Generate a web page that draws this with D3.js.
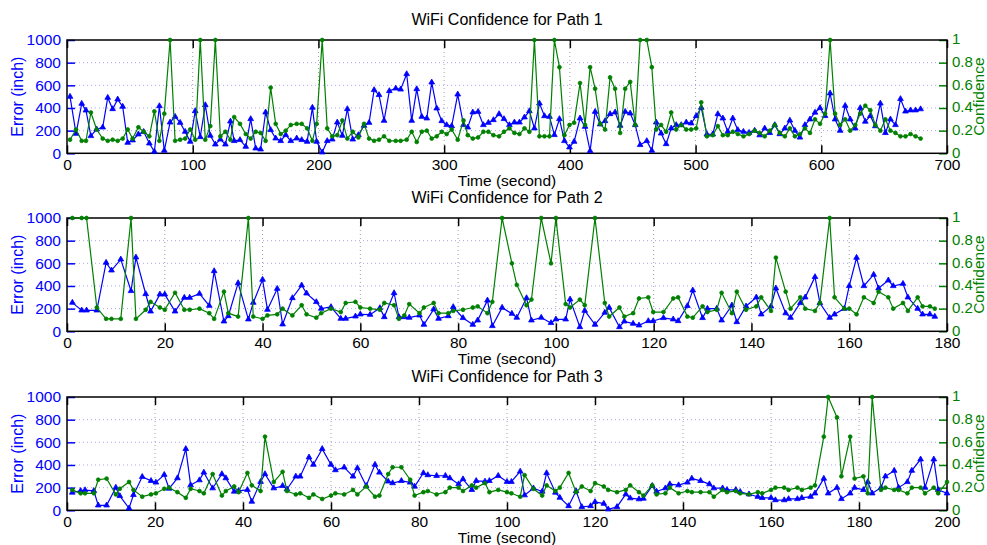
<!DOCTYPE html>
<html>
<head>
<meta charset="utf-8">
<script src="https://cdn.jsdelivr.net/npm/d3@7"></script>
<style>
body{margin:0;background:#fff;}
text{font-family:"Liberation Sans",Arial,Helvetica,sans-serif;}
</style>
</head>
<body>
<svg id="chart" width="987" height="545"></svg>
<script>
// ---------- DATA ----------
const titles = ["WiFi Confidence for Path 1","WiFi Confidence for Path 2","WiFi Confidence for Path 3"];
const xMax = [700, 180, 200];
const xTicks1 = [0,100,200,300,400,500,600,700];
const xTicks2 = [0,20,40,60,80,100,120,140,160,180];
const xTicks3 = [0,20,40,60,80,100,120,140,160,180,200];
const errTicks = [0,200,400,600,800,1000];
const confTicks = [0,0.2,0.4,0.6,0.8,1];
const confTickLabels = ["0","0.2","0.4","0.6","0.8","1"];

const time1 = [2.4,7.2,11.7,15.1,19,23.6,28.4,32.4,36.3,40.3,44.3,48.3,52.2,56.8,61,65.5,69.5,73.5,77.4,82,86,90,94,98,102,106,110,114,118,122,126,130,
133,137.6,142.2,146.1,150.1,154,158,162,166,170,174,178,182.7,186.7,191,195.2,198.6,203,207,211,215,219,223,227.3,231.8,236.3,240.3,244.3,248.2,252.2,256.4,261.5,265.4,
270.2,274.2,278.2,282.2,286.2,290.1,294.1,298.1,302,306,310.8,315.4,318.8,322.8,327,331.2,335.2,339.2,343.7,347.6,351.9,355.9,359.9,363.9,367.8,371.8,375.8,379.8,383.8,387.7,391.7,395.7,399.7,
403.4,408.1,412.1,416.1,420.1,424.1,428,432,436,440,444,448,452,455.9,461.2,465.2,468.7,472.6,476.6,480.6,484.6,488.6,492.6,496.5,500.5,504.5,509,513.7,517.7,521.7,525.6,529.6,533.6,538.1,542.6,
547,551,555,559,563,567,571,575,579,583,587,591,595,599,603,607,611,615,619,623,627,631,635,639,643,647,651,655,659,663,667,671,675,679];
const error1 = [500,173,438,379,153,212,229,491,391,476,412,94,115,168,190,88,15,417,24,273,323,270,191,103,373,144,426,156,79,123,79,282,
109,118,59,303,44,35,362,206,132,109,162,109,132,118,103,403,103,9,109,123,273,156,391,123,162,244,270,559,515,288,550,573,564,
700,288,567,323,309,626,397,285,250,241,520,250,229,362,367,250,270,294,347,303,250,273,273,318,373,221,441,329,323,162,303,109,53,
103,309,235,21,367,256,285,347,362,244,367,353,250,74,109,24,273,176,82,221,250,250,273,265,329,403,168,168,347,309,191,309,206,191,182,
200,160,220,180,250,170,220,290,200,140,250,300,360,400,330,530,300,200,420,300,220,400,280,330,240,440,180,300,250,480,370,380,380,390];
const conf1 = [0.12,0.21,0.11,0.11,0.36,0.21,0.13,0.11,0.12,0.11,0.13,0.21,0.13,0.23,0.19,0.15,0.37,0.11,0.35,1.0,0.11,0.12,0.13,0.21,0.12,1.0,0.12,0.24,1.0,0.15,0.19,0.12,
0.32,0.26,0.17,0.13,0.19,0.18,0.11,0.58,0.26,0.17,0.20,0.25,0.26,0.26,0.22,0.11,0.26,1.0,0.22,0.15,0.16,0.29,0.13,0.19,0.14,0.26,0.13,0.11,0.12,0.15,0.11,0.11,0.11,
0.12,0.19,0.10,0.19,0.20,0.13,0.15,0.19,0.17,0.21,0.12,0.29,0.16,0.13,0.14,0.19,0.19,0.16,0.15,0.19,0.22,0.18,0.17,0.22,0.19,1.0,0.15,0.15,0.15,1.0,0.76,0.16,0.25,
0.27,0.62,0.25,0.76,0.57,0.26,0.21,0.67,0.57,0.18,0.57,0.63,0.25,1.0,1.0,0.76,0.21,0.25,0.19,0.36,0.21,0.25,0.21,0.21,0.22,0.45,0.15,0.16,0.24,0.16,0.16,0.19,0.17,0.15,0.17,
0.20,0.18,0.15,0.20,0.25,0.18,0.15,0.22,0.15,0.17,0.22,0.18,0.30,0.26,0.35,1.0,0.35,0.25,0.30,0.20,0.25,0.35,0.42,0.38,0.25,0.20,0.30,0.20,0.18,0.15,0.15,0.17,0.15,0.13];

const time2 = [1.1,3,4,6.1,8,9.1,11,13.1,14.1,16.1,17.1,19,20,22.1,24,25.1,27.1,29.1,30.1,32.1,33,35,37.1,38.1,40,41,43,44.1,46.1,48,49,51,52,54,56,57,59,60,62,64,64.9,66.9,67.9,69,
70,72.1,73,75,76,78,79,81,83,84,86,87,89,91,92,94,95,97,99,100,102,102.9,104.9,105.9,108,110,110.9,113,114,115.8,117,118.9,119.9,122,124,125,126.9,128,130,131,132.9,133.9,136,137,138.9,
141,142,144,145,147,148,150,151,153,154,156,157,159,160,161.5,163,165,166,168,169,171,172,174,175,176.5,177.5];
const error2 = [253,185,185,185,606,538,635,356,653,329,176,326,326,176,297,297,332,226,532,88,135,426,106,253,456,191,376,62,294,406,335,259,200,215,112,112,132,150,147,206,126,338,126,126,
121,141,59,194,112,135,215,118,59,97,273,47,209,156,121,294,97,121,74,106,106,282,38,182,59,165,209,38,88,68,53,91,91,118,106,91,224,362,118,200,200,97,229,82,221,
300,150,220,380,160,120,250,300,480,250,120,150,200,400,650,400,500,380,450,400,420,300,200,150,150,130];
const conf2 = [1,1,1,0.21,0.11,0.11,0.11,1,0.11,0.19,0.26,0.21,0.19,0.34,0.19,0.19,0.20,0.16,0.11,0.35,0.16,0.13,1,0.13,0.11,0.14,0.15,0.20,0.14,0.23,0.15,0.12,0.16,0.20,0.17,0.25,0.26,0.21,0.20,0.19,0.25,0.23,0.11,0.14,
0.24,0.16,0.21,0.25,0.16,0.16,0.18,0.19,0.21,0.22,0.16,0.26,1,0.60,0.41,0.23,0.28,1,0.60,1,0.24,0.21,0.28,0.23,1,0.25,0.13,0.21,0.13,0.16,0.29,0.30,0.17,0.17,0.29,0.30,0.13,0.12,0.22,0.17,0.19,0.34,0.16,0.35,0.19,
0.22,0.30,0.18,0.65,0.35,0.20,0.30,0.20,0.18,0.25,1,0.30,0.20,0.20,0.15,0.30,0.25,0.35,0.30,0.20,0.25,0.18,0.30,0.22,0.22,0.20];

const time3 = [1.2,3.1,4.1,6.1,7.1,9,11.1,12,14.1,15.1,17.1,19.1,20.2,22.1,23.2,25.1,27,28.1,30.1,31.1,33.1,35.2,36.1,38,39,41,42,44,45,47,49,50,52,53,55,56,58,60,61,63,65,66,68,70,71,73,74,76,
78,79,81,82,84,86,87,89,90,92,93,95,96,98,100,101,103,104,106,108,109,111,112,114,115.7,117,119,120,122,123,125,127,128,130,131,133,134,136,137,139,141,142,144,146,147,149,150,152,153,155,
157,158,160,161,163,164,166,167,169,170,172,173,175,176,178,179,181,182,183,185,186,188,189,191,192,194,195,197,198,200];
const error3 = [157,172,178,172,44,44,201,127,18,136,296,260,246,314,192,284,542,222,266,334,195,320,284,166,172,181,77,252,320,195,216,186,299,299,468,403,542,403,355,379,299,373,216,403,334,255,240,260,
246,210,329,311,305,305,284,231,275,181,260,255,260,305,252,252,343,133,195,166,329,157,112,38,170,30,38,74,59,9,30,142,107,98,104,216,166,195,231,222,246,281,260,231,195,195,181,181,163,142,
120,110,110,90,90,100,100,110,120,150,280,150,200,100,150,200,180,250,150,200,300,350,200,250,350,450,200,450,180,150];
const conf3 = [0.18,0.15,0.15,0.15,0.27,0.28,0.14,0.19,0.25,0.18,0.12,0.14,0.15,0.19,0.20,0.16,0.11,0.19,0.17,0.15,0.32,0.13,0.17,0.21,0.16,0.33,0.22,0.17,0.65,0.25,0.34,0.17,0.14,0.15,0.11,0.14,0.10,0.13,0.15,0.14,0.18,0.14,0.21,0.12,0.13,0.32,0.38,0.38,
0.27,0.13,0.16,0.17,0.14,0.16,0.20,0.20,0.17,0.22,0.20,0.24,0.16,0.18,0.16,0.15,0.12,0.31,0.19,0.13,0.22,0.17,0.20,0.33,0.16,0.21,0.17,0.24,0.21,0.18,0.16,0.18,0.22,0.16,0.13,0.22,0.14,0.15,0.20,0.15,0.17,0.16,0.16,0.16,0.12,0.18,0.16,0.17,0.15,0.14,
0.16,0.15,0.18,0.20,0.20,0.18,0.20,0.18,0.20,0.22,0.65,1,0.82,0.30,0.65,0.28,0.30,0.15,1,0.18,0.20,0.18,0.18,0.15,0.20,0.20,0.15,0.20,0.15,0.25];

// ---------- DRAW ----------
const panels = [
  {time: time1, err: error1, conf: conf1, xTicks: xTicks1},
  {time: time2, err: error2, conf: conf2, xTicks: xTicks2},
  {time: time3, err: error3, conf: conf3, xTicks: xTicks3}
];
const L = 67, R = 947, H = 113.3;
const tops = [40, 218, 397];
const BLUE = "#0000ff", GREEN = "#008000";
const svg = d3.select("#chart");

panels.forEach((p, i) => {
  const top = tops[i], bottom = top + H;
  const x = d3.scaleLinear().domain([0, xMax[i]]).range([L, R]);
  const yE = d3.scaleLinear().domain([0, 1000]).range([bottom, top]);
  const yC = d3.scaleLinear().domain([0, 1]).range([bottom, top]);
  const g = svg.append("g");

  // grid
  g.append("g").selectAll("line").data(errTicks.slice(1, -1)).join("line")
    .attr("x1", L).attr("x2", R).attr("y1", d => yE(d)).attr("y2", d => yE(d))
    .attr("stroke", "#a8a8f0").attr("stroke-width", 1).attr("stroke-dasharray", "1,3");
  g.append("g").selectAll("line").data(p.xTicks.slice(1, -1)).join("line")
    .attr("x1", d => x(d)).attr("x2", d => x(d)).attr("y1", top).attr("y2", bottom)
    .attr("stroke", "#a0a0a0").attr("stroke-width", 1).attr("stroke-dasharray", "1,3");

  // x axis (bottom, inner ticks)
  const xa = g.append("g").attr("transform", `translate(0,${bottom})`)
    .call(d3.axisBottom(x).tickValues(p.xTicks).tickSize(-8).tickPadding(6).tickFormat(d3.format("d")));
  xa.select(".domain").remove();
  xa.selectAll(".tick line").attr("stroke", "#000").attr("stroke-width", 1.5);
  xa.selectAll("text").attr("font-size", 15.5).attr("fill", "#000");
  const xt = g.append("g").attr("transform", `translate(0,${top})`)
    .call(d3.axisTop(x).tickValues(p.xTicks).tickSize(-8).tickFormat(""));
  xt.select(".domain").remove();
  xt.selectAll(".tick line").attr("stroke", "#000").attr("stroke-width", 1.5);

  // left axis
  const ya = g.append("g").attr("transform", `translate(${L},0)`)
    .call(d3.axisLeft(yE).tickValues(errTicks).tickSize(-8).tickPadding(6).tickFormat(d3.format("d")));
  ya.select(".domain").remove();
  ya.selectAll(".tick line").attr("stroke", BLUE).attr("stroke-width", 1.5);
  ya.selectAll("text").attr("font-size", 15.5).attr("fill", BLUE);

  // right axis
  const yb = g.append("g").attr("transform", `translate(${R},0)`)
    .call(d3.axisRight(yC).tickValues(confTicks).tickSize(-8).tickPadding(5).tickFormat((d, k) => confTickLabels[k]));
  yb.select(".domain").remove();
  yb.selectAll(".tick line").attr("stroke", GREEN).attr("stroke-width", 1.5);
  yb.selectAll("text").attr("font-size", 15).attr("fill", GREEN).attr("dy", "0.25em");

  // box
  g.append("rect").attr("x", L).attr("y", top).attr("width", R - L).attr("height", H)
    .attr("fill", "none").attr("stroke", "#000").attr("stroke-width", 1.5);

  // series
  const idx = d3.range(p.time.length);
  const lineE = d3.line().x(k => x(p.time[k])).y(k => yE(p.err[k]));
  const lineC = d3.line().x(k => x(p.time[k])).y(k => yC(p.conf[k]));
  g.append("path").attr("d", lineE(idx)).attr("fill", "none").attr("stroke", BLUE).attr("stroke-width", 1.2);
  g.append("g").selectAll("path").data(idx).join("path")
    .attr("d", d3.symbol(d3.symbolTriangle, 14)())
    .attr("transform", k => `translate(${x(p.time[k])},${yE(p.err[k])})`)
    .attr("fill", BLUE).attr("stroke", BLUE).attr("stroke-width", 0.8);
  g.append("path").attr("d", lineC(idx)).attr("fill", "none").attr("stroke", GREEN).attr("stroke-width", 1.2);
  g.append("g").selectAll("circle").data(idx).join("circle")
    .attr("cx", k => x(p.time[k])).attr("cy", k => yC(p.conf[k])).attr("r", 1.9)
    .attr("fill", GREEN).attr("stroke", GREEN).attr("stroke-width", 0.8);

  // labels
  svg.append("text").attr("x", (L + R) / 2).attr("y", top - 15).attr("text-anchor", "middle")
    .attr("font-size", 16).attr("fill", "#000").text(titles[i]);
  svg.append("text").attr("x", (L + R) / 2).attr("y", bottom + 32.5).attr("text-anchor", "middle")
    .attr("font-size", 15.5).attr("fill", "#000").text("Time (second)");
  svg.append("text").attr("transform", `translate(23,${top + H / 2}) rotate(-90)`).attr("text-anchor", "middle")
    .attr("font-size", 16).attr("fill", BLUE).text("Error (inch)");
  svg.append("text").attr("transform", `translate(984,${top + H / 2}) rotate(-90)`).attr("text-anchor", "middle")
    .attr("font-size", 15.5).attr("fill", GREEN).text("Confidence");
});
</script>
</body>
</html>
